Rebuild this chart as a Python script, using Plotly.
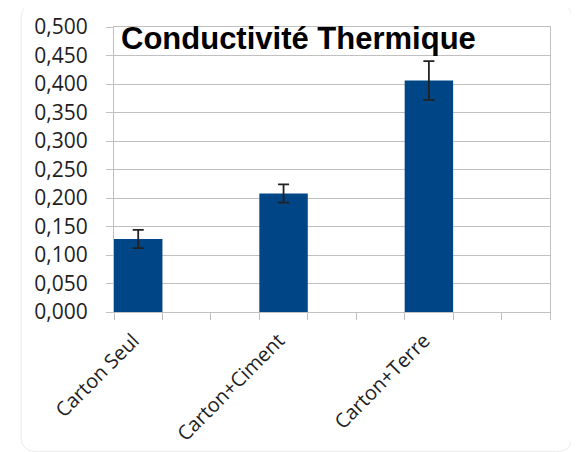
import plotly.graph_objects as go

categories = ["Carton Seul", "Carton+Ciment", "Carton+Terre"]
values = [0.128, 0.208, 0.406]
errors = [0.016, 0.016, 0.034]
slot_positions = [0.5, 3.5, 6.5]   # bars occupy slots 0, 3, 6 of 9
y_ticks = [round(i * 0.05, 3) for i in range(11)]
y_tick_labels = [f"{v:.3f}".replace(".", ",") for v in y_ticks]

BAR = "#004586"
GRID = "#c0c0c0"
TXT = "#1e1e1e"
FONT = "Open Sans"

fig = go.Figure()
fig.add_trace(go.Bar(
    x=slot_positions, y=values, width=1.0,
    marker=dict(color=BAR, line=dict(width=0)),
    error_y=dict(type="data", array=errors, visible=True,
                 color="#222222", thickness=1.8, width=5.5),
    showlegend=False,
))
# invisible trace bound to the label axis
fig.add_trace(go.Scatter(x=slot_positions, y=values, xaxis="x2", mode="markers",
                         marker=dict(opacity=0), showlegend=False, hoverinfo="skip"))

# faint rounded frame around the whole chart (paper coordinates)
x0, x1, y0, y1 = -0.213, 1.050, -0.49, 1.084
rx, ry = 0.035, 0.053
frame = (f"M {x0+rx},{y1} L {x1-rx},{y1} Q {x1},{y1} {x1},{y1-ry} "
         f"L {x1},{y0+ry} Q {x1},{y0} {x1-rx},{y0} L {x0+rx},{y0} "
         f"Q {x0},{y0} {x0},{y0+ry} L {x0},{y1-ry} Q {x0},{y1} {x0+rx},{y1} Z")

fig.update_layout(
    width=571, height=444,
    margin=dict(l=106, r=29, t=19, b=140),
    paper_bgcolor="white", plot_bgcolor="white",
    font=dict(family=FONT, size=20, color=TXT),
    xaxis=dict(range=[0, 9], tickvals=list(range(10)), ticktext=[""] * 10,
               ticks="outside", ticklen=7, tickcolor=GRID, tickwidth=1,
               showgrid=False, zeroline=False, automargin=False,
               showline=True, linecolor=GRID, linewidth=1.2, mirror=True),
    xaxis2=dict(range=[0, 9], overlaying="x", side="bottom", matches="x",
                tickvals=[p - 0.1 for p in slot_positions], ticktext=categories,
                tickangle=-45, automargin=False,
                ticks="", showgrid=False, zeroline=False, showline=False,
                tickfont=dict(family=FONT, size=20, color=TXT),
                ticklabelstandoff=12),
    yaxis=dict(range=[0, 0.5], tickvals=y_ticks, ticktext=y_tick_labels,
               ticks="outside", ticklen=7, tickcolor=GRID, tickwidth=1,
               showgrid=True, gridcolor=GRID, gridwidth=1.2, zeroline=False,
               showline=True, linecolor=GRID, linewidth=1.2, mirror=True,
               automargin=False,
               tickfont=dict(family=FONT, size=21, color=TXT),
               ticklabelstandoff=14),
    shapes=[dict(type="path", path=frame, xref="paper", yref="paper",
                 line=dict(color="#ececec", width=1), layer="below")],
    annotations=[dict(
        text="<b>Conductivité Thermique</b>", x=0.011, y=1.028,
        xref="paper", yref="paper", xanchor="left", yanchor="top",
        showarrow=False,
        font=dict(family="Liberation Sans", size=31, color="black"),
    )],
)

fig.write_html("out.html")
